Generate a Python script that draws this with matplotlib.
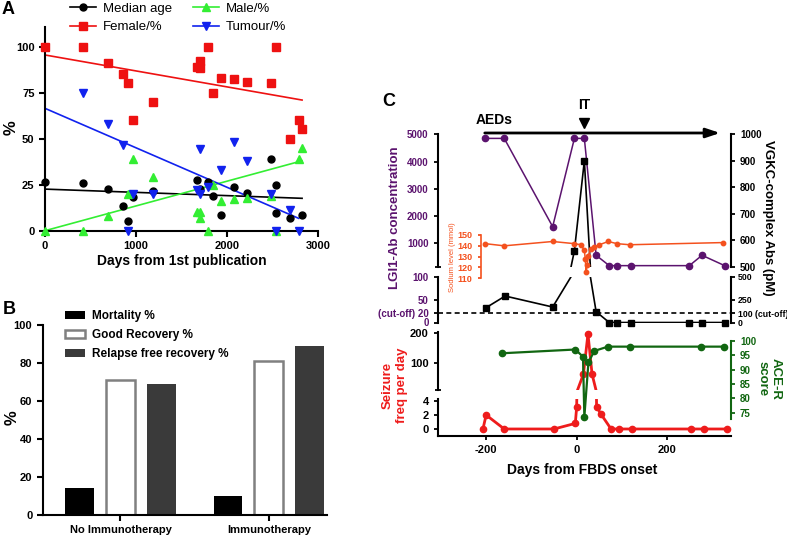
import numpy as np
import matplotlib.pyplot as plt
from matplotlib.lines import Line2D

plt.rcParams['font.family'] = ['Liberation Sans', 'DejaVu Sans']
plt.rcParams['font.weight'] = 'bold'
plt.rcParams['axes.labelweight'] = 'bold'
plt.rcParams['axes.unicode_minus'] = False

W, H = 787, 536

# ---------------- panel A: literature review
age_days = [0, 421, 695, 860, 907, 970, 1189, 1665, 1701, 1793, 1848, 1939, 2078, 2221, 2481, 2543, 2543, 2697, 2825]
age_vals = [26.6, 25.7, 22.6, 13.6, 5.4, 18.5, 21.7, 27.5, 22.6, 26.6, 18.8, 8.5, 24, 20.7, 38.8, 24.8, 9.4, 6.7, 8.5]
female_days = [0, 421, 695, 860, 907, 970, 1189, 1665, 1701, 1701, 1793, 1848, 1939, 2078, 2221, 2481, 2543, 2697, 2788, 2825]
female_vals = [100, 100, 91, 85, 80, 60, 70, 89, 92, 88.5, 100, 75, 83, 82.5, 81, 80, 100, 50, 60, 55]
male_days = [0, 421, 695, 907, 970, 1189, 1665, 1701, 1701, 1793, 1848, 1939, 2078, 2221, 2481, 2543, 2788, 2825]
male_vals = [0, 0, 8, 20, 39, 29, 10, 10, 7, 0, 25, 16, 17, 18, 19, 0, 39, 45]
tumour_days = [421, 695, 860, 907, 970, 1189, 1665, 1701, 1701, 1793, 1939, 2078, 2221, 2481, 2543, 2697, 2788]
tumour_vals = [75, 58, 46.5, 0, 20, 20, 22, 20, 44.5, 24, 33, 48, 38, 20, 0, 11.5, 0]

# regression lines (start / end)
fit_days = [0, 2825]
age_fit = [22.6, 17.6]
female_fit = [95.5, 71]
male_fit = [0, 38]
tumour_fit_days = [0, 2788]
tumour_fit = [66.5, 6.7]

# ---------------- panel B
groups = ['No Immunotherapy', 'Immunotherapy']
mortality = [14, 10]
good_recovery = [71, 81]
relapse_free = [69, 89]

# ---------------- panel C: case timeline (days from FBDS onset)
lgi1_days = [-202, -160, -53, -5, 17, 43, 72, 90, 120, 249, 277, 327]
lgi1_vals = [4850, 4850, 1610, 4850, 4850, 560, 180, 180, 180, 180, 560, 180]
vgkc_days = [-200, -158, -53, -5, 17, 43, 72, 90, 120, 249, 277, 327]
vgkc_vals = [162, 289, 169, 560, 900, 118, 0, 0, 0, 0, 0, 0]
sodium_days = [-202, -160, -53, -5, 9, 17, 19, 21, 23, 26, 31, 39, 50, 70, 89, 117, 323]
sodium_vals = [142, 140, 144, 142, 141, 136, 128, 116, 122, 131, 137, 139, 141, 144, 142, 141, 143]
seizure_days = [-207, -200, -160, -50, -3, 0, 15, 25, 34, 44, 53, 76, 94, 123, 253, 282, 332]
seizure_vals = [0, 2, 0, 0, 0.8, 3.1, 64, 198, 64, 3.2, 2.2, 0, 0, 0, 0, 0, 0]
acer_days = [-164, -3, 14, 17, 26, 39, 69, 117, 275, 326]
acer_vals = [95.7, 97, 94.5, 73.5, 92.5, 96.5, 98, 98, 98, 98]

purple = '#5b136e'
orange = '#f4511e'
red = '#ee1c1c'
green = '#116611'


def box(x0, y0, x1, y1):
    # pixel box -> figure fraction rect
    return [x0 / W, 1 - y1 / H, (x1 - x0) / W, (y1 - y0) / H]


def series(ax, x, y, lo, hi, color, marker, ms, lw):
    x = np.asarray(x, float)
    y = np.asarray(y, float)
    ax.plot(x, y, color=color, lw=lw)
    keep = (y >= lo) & (y <= hi)
    ax.plot(x[keep], y[keep], ls='none', marker=marker, ms=ms, color=color, clip_on=False)


fig = plt.figure(figsize=(W / 100, H / 100), dpi=100)

# ================= A
axA = fig.add_axes(box(45, 27, 318, 230.7))
axA.plot(age_days, age_vals, 'o', color='black', ms=5, clip_on=False, zorder=3)
axA.plot(female_days, female_vals, 's', color='#ee1111', ms=5.5, clip_on=False, zorder=3)
axA.plot(male_days, male_vals, '^', color='#33ee33', ms=5.5, clip_on=False, zorder=3)
axA.plot(tumour_days, tumour_vals, 'v', color='#1122ee', ms=5.5, clip_on=False, zorder=3)
axA.plot(fit_days, age_fit, color='black', lw=1.2)
axA.plot(fit_days, female_fit, color='#ee1111', lw=1.2)
axA.plot(fit_days, male_fit, color='#33ee33', lw=1.2)
axA.plot(tumour_fit_days, tumour_fit, color='#1122ee', lw=1.2)
axA.set_xlim(0, 3000)
axA.set_ylim(0, 110.7)
axA.set_xticks([0, 1000, 2000, 3000])
axA.set_yticks([0, 25, 50, 75, 100])
axA.set_xlabel('Days from 1st publication', fontsize=10, labelpad=2)
for s in ['top', 'right']:
    axA.spines[s].set_visible(False)
for s in ['left', 'bottom']:
    axA.spines[s].set_linewidth(1.5)
axA.tick_params(width=1.5, length=4, labelsize=8)
fig.text(11 / W, 1 - 128 / H, '%', rotation=90, fontsize=12, ha='center', va='center')

handlesA = [
    Line2D([], [], color='black', marker='o', ms=5, lw=1.2),
    Line2D([], [], color='#ee1111', marker='s', ms=5.5, lw=1.2),
    Line2D([], [], color='#33ee33', marker='^', ms=5.5, lw=1.2),
    Line2D([], [], color='#1122ee', marker='v', ms=5.5, lw=1.2),
]
fig.legend(handlesA, ['Median age', 'Female/%', 'Male/%', 'Tumour/%'], ncol=2,
           loc='center', bbox_to_anchor=(178 / W, 1 - 18 / H), frameon=False,
           prop={'size': 9.5, 'weight': 'normal'}, handlelength=2, handletextpad=0.5,
           columnspacing=1.6, labelspacing=0.45, borderpad=0)

# ================= B
axB = fig.add_axes(box(42.7, 325, 327, 515))
pos = np.arange(len(groups))
off = 0.276
bw = 0.195
axB.bar(pos - off, mortality, bw, color='black', label='Mortality %')
axB.bar(pos, good_recovery, bw, color='white', edgecolor='#808080', lw=1.8, label='Good Recovery %')
axB.bar(pos + off, relapse_free, bw, color='#3a3a3a', label='Relapse free recovery %')
axB.set_xlim(-0.524, 1.391)
axB.set_ylim(0, 100)
axB.set_xticks(pos)
axB.set_xticklabels(groups)
axB.set_yticks([0, 20, 40, 60, 80, 100])
for s in ['top', 'right']:
    axB.spines[s].set_visible(False)
for s in ['left', 'bottom']:
    axB.spines[s].set_linewidth(1.5)
axB.tick_params(width=1.5, length=4, labelsize=8)
fig.text(12 / W, 1 - 418 / H, '%', rotation=90, fontsize=12, ha='center', va='center')
axB.legend(loc='upper left', bbox_to_anchor=(65 / W, 1 - 310 / H), bbox_transform=fig.transFigure,
           frameon=False, prop={'size': 8.5, 'weight': 'bold'}, handlelength=1.7, handleheight=0.75,
           handletextpad=0.6, labelspacing=0.6, borderpad=0, borderaxespad=0)

# ================= C
xl = (-307, 341)


def cax(y0, y1):
    ax = fig.add_axes(box(437.7, y0, 731, y1))
    ax.set_facecolor('none')
    ax.set_xlim(xl)
    for s in ax.spines.values():
        s.set_visible(False)
        s.set_linewidth(1.5)
    ax.set_xticks([])
    ax.tick_params(width=1.3, length=3, labelsize=7)
    return ax


# upper segment: LGI1 (left) / VGKC (right)
c1 = cax(134.3, 266.7)
c1.set_ylim(141, 5000)
c1.spines['left'].set_visible(True)
c1.set_yticks([1000, 2000, 3000, 4000, 5000])
c1.tick_params(axis='y', labelcolor=purple)
c1.set_yticks([141], minor=True)
c1.tick_params(axis='y', which='minor', length=5, direction='inout', width=1.3)
series(c1, lgi1_days, lgi1_vals, 141, 5000, purple, 'o', 4.5, 1.1)

c1r = c1.twinx()
c1r.set_xlim(xl)
c1r.set_ylim(500, 1000)
for s in c1r.spines.values():
    s.set_visible(False)
c1r.spines['right'].set_visible(True)
c1r.spines['right'].set_linewidth(1.5)
c1r.set_yticks([500, 600, 700, 800, 900, 1000])
c1r.tick_params(width=1.3, length=3, labelsize=7)
series(c1r, vgkc_days, vgkc_vals, 501, 1000, 'black', 's', 4.5, 1.2)

# arrow for AEDs and IT marker
c1.annotate('', xy=(317, 5048), xytext=(-203, 5048), annotation_clip=False,
            arrowprops=dict(arrowstyle='-|>,head_length=0.6,head_width=0.2', lw=2,
                            color='black', mutation_scale=14, shrinkA=0, shrinkB=0))
c1.text(-183, 5525, 'AEDs', ha='center', va='center', fontsize=10)
c1.text(17, 6075, 'IT', ha='center', va='center', fontsize=10)
c1.plot([17], [5404], 'v', color='black', ms=7, clip_on=False)

# lower segment: LGI1 0-100 / VGKC 0-500
c2 = cax(276.7, 322.5)
c2.set_ylim(0, 100)
c2.spines['left'].set_visible(True)
c2.set_yticks([0, 20, 50, 100])
c2.set_yticklabels(['0', '(cut-off) 20', '50', '100'])
c2.tick_params(axis='y', labelcolor=purple)
c2.axhline(20, color='black', lw=1.2, ls=(0, (3, 2)))

c2r = c2.twinx()
c2r.set_xlim(xl)
c2r.set_ylim(0, 500)
for s in c2r.spines.values():
    s.set_visible(False)
c2r.spines['right'].set_visible(True)
c2r.spines['right'].set_linewidth(1.5)
c2r.set_yticks([0, 100, 250, 500])
c2r.set_yticklabels(['0', '100 (cut-off)', '250', '500'])
c2r.tick_params(width=1.3, length=3, labelsize=6.3, pad=2)
series(c2r, vgkc_days, vgkc_vals, 0, 500, 'black', 's', 4.5, 1.2)

# sodium inset axis
na = cax(235, 278.3)
na.set_ylim(110, 150)
na.spines['left'].set_visible(True)
na.spines['left'].set_position(('data', -212))
na.spines['left'].set_color(orange)
na.spines['left'].set_linewidth(1.2)
na.set_yticks([110, 120, 130, 140, 150])
na.tick_params(axis='y', colors=orange, labelsize=6.5, length=2.5)
series(na, sodium_days, sodium_vals, 110, 150, orange, 'o', 3.2, 1.1)

# seizure frequency: broken axis
c3 = cax(331.7, 390)
c3.set_ylim(11, 205.3)
c3.spines['left'].set_visible(True)
c3.set_yticks([100, 200])
c3.tick_params(axis='y', labelsize=8)
c3.set_yticks([11], minor=True)
c3.tick_params(axis='y', which='minor', length=5, direction='inout', width=1.3)
series(c3, seizure_days, seizure_vals, 11, 205, red, 'o', 4.5, 2)

c4 = cax(399, 435.7)
c4.set_ylim(-0.96, 4.29)
c4.spines['left'].set_visible(True)
c4.spines['bottom'].set_visible(True)
c4.set_yticks([0, 2, 4])
c4.set_xticks([-200, 0, 200])
c4.tick_params(labelsize=8)
series(c4, seizure_days, seizure_vals, -0.96, 4.29, red, 'o', 4.5, 2)

# ACE-R score on right
ace = cax(331.7, 435.7)
ace.set_ylim(67, 103.2)
ace.spines['right'].set_visible(True)
ace.spines['right'].set_bounds(72.7, 100)
ace.spines['right'].set_color(green)
ace.yaxis.tick_right()
ace.set_yticks([75, 80, 85, 90, 95, 100])
ace.tick_params(axis='y', colors=green, labelsize=7)
series(ace, acer_days, acer_vals, 67, 103, green, 'o', 4.5, 1.6)

# axis titles for panel C
fig.text(395 / W, 1 - 218 / H, 'LGI1-Ab concentration', rotation=90, color=purple,
         fontsize=9.5, ha='center', va='center')
fig.text(768 / W, 1 - 218 / H, 'VGKC-complex Abs (pM)', rotation=-90, color='black',
         fontsize=9.5, ha='center', va='center')
fig.text(452 / W, 1 - 257 / H, 'Sodium level (mmol)', rotation=90, color=orange,
         fontsize=5.5, weight='normal', ha='center', va='center')
fig.text(395 / W, 1 - 385 / H, 'Seizure\nfreq per day', rotation=90, color=red,
         fontsize=9.5, ha='center', va='center', multialignment='center')
fig.text(769 / W, 1 - 379 / H, 'ACE-R\nscore', rotation=-90, color=green,
         fontsize=9.5, ha='center', va='center', multialignment='center')
fig.text(582 / W, 1 - 470 / H, 'Days from FBDS onset', fontsize=10, ha='center', va='center')

# panel letters
fig.text(8 / W, 1 - 9 / H, 'A', fontsize=13, ha='center', va='center')
fig.text(9 / W, 1 - 310 / H, 'B', fontsize=13, ha='center', va='center')
fig.text(389 / W, 1 - 102 / H, 'C', fontsize=13, ha='center', va='center')

fig.savefig('out.png', dpi=100)
